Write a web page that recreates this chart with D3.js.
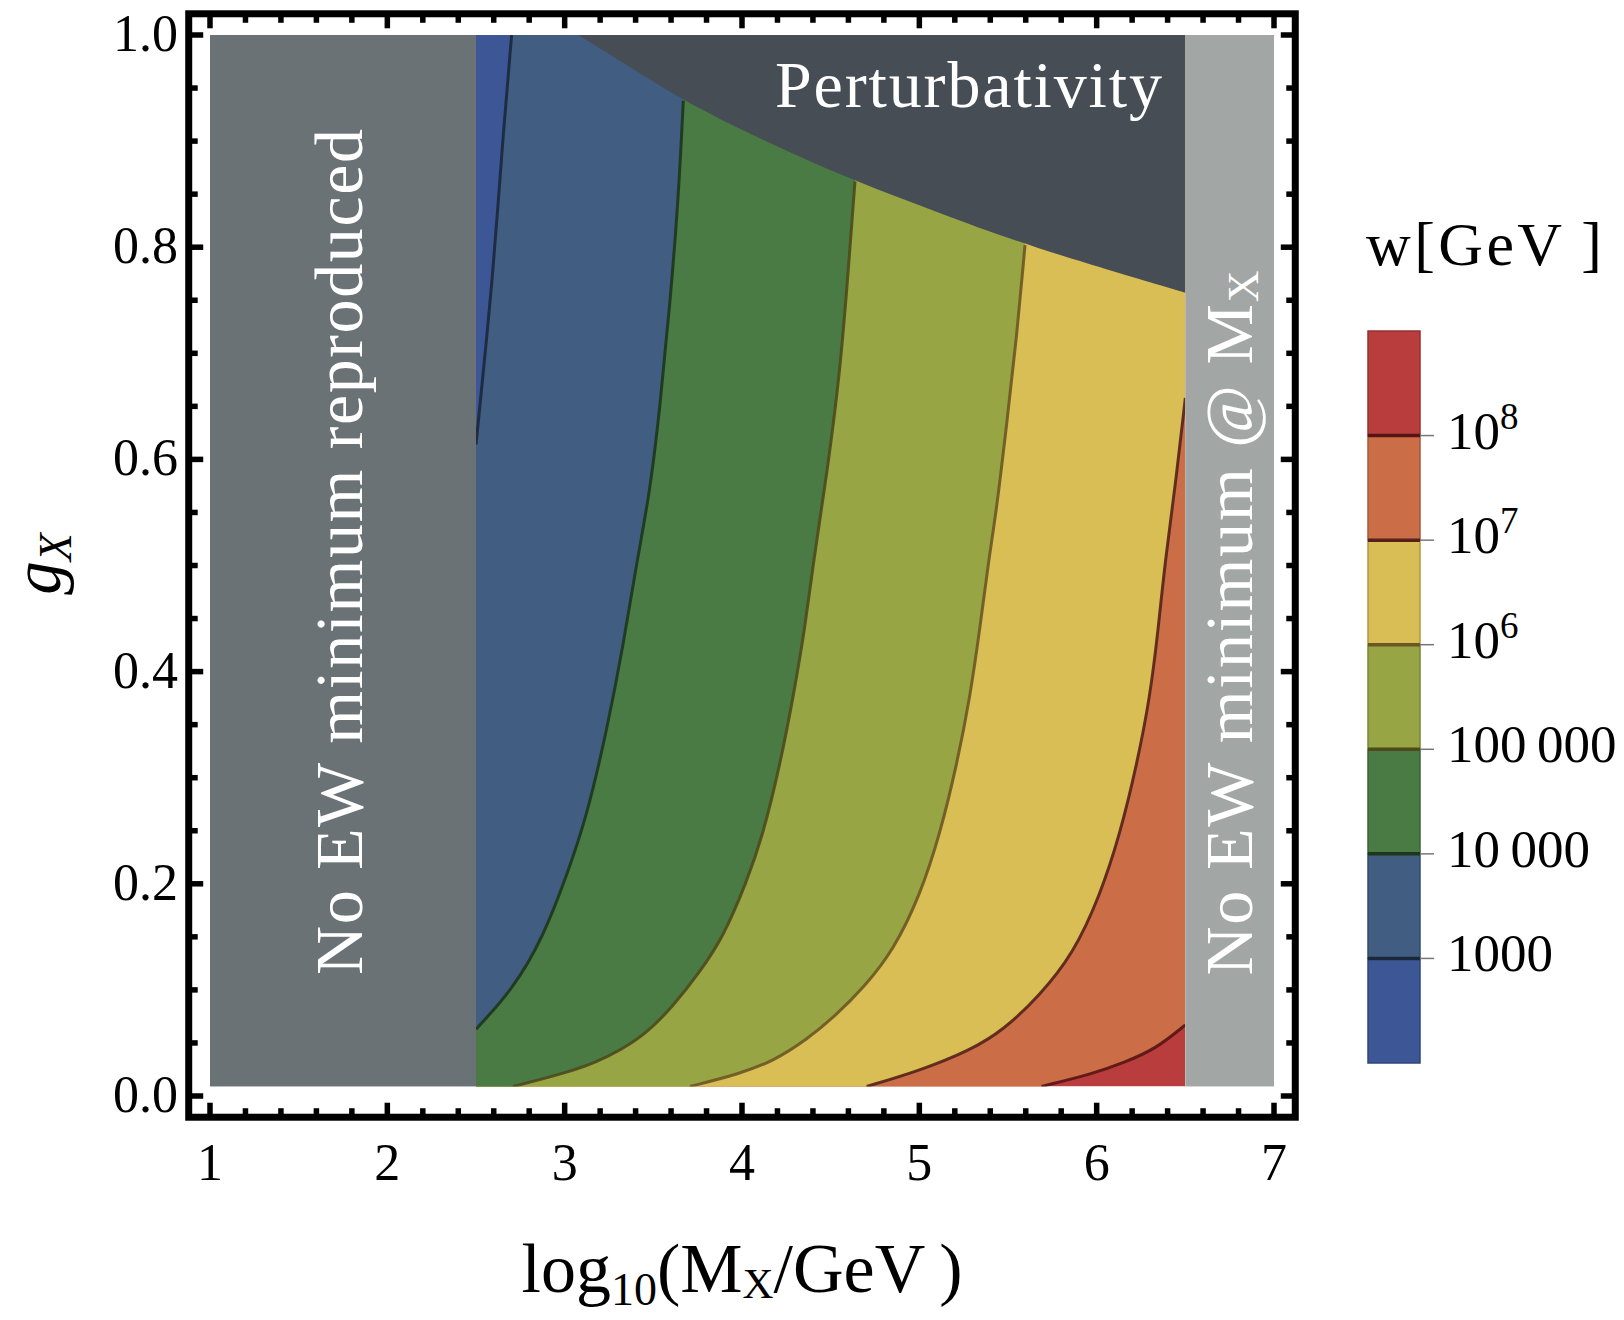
<!DOCTYPE html>
<html><head><meta charset="utf-8">
<script src="https://cdn.jsdelivr.net/npm/d3@7"></script>
<style>
body{margin:0;background:#fff;}
svg{display:block;}
text{font-family:"Liberation Serif","Times New Roman",serif;}
</style>
</head><body>
<svg id="chart" width="1624" height="1320"></svg>
<script>
// ---------------- data ----------------
const xTicks = [1, 2, 3, 4, 5, 6, 7];
const xTickLabels = ["1", "2", "3", "4", "5", "6", "7"];
const yTicks = [0.0, 0.2, 0.4, 0.6, 0.8, 1.0];
const yTickLabels = ["0.0", "0.2", "0.4", "0.6", "0.8", "1.0"];

const levels = [1e3, 1e4, 1e5, 1e6, 1e7, 1e8];
const levelLabels = [["1000", ""], ["10\u2009000", ""], ["100\u2009000", ""], ["10", "6"], ["10", "7"], ["10", "8"]];
const bandColors = ["#3d5796", "#415e82", "#4a7b45", "#97a544", "#d8be54", "#cb6e48", "#b93d3c"];
const lineColors = ["#1b283b", "#1d361c", "#4e4a1c", "#6b5624", "#55211a", "#561414"];

// contour lines of w, as [log10(MX/GeV), gX], bottom to top
const contour1e3 = [[2.5, 0.614], [2.541, 0.682], [2.598, 0.779], [2.654, 0.909], [2.701, 1.0]];
const contour1e4 = [[2.5, 0.063], [2.710, 0.101], [2.880, 0.150], [3.012, 0.208], [3.124, 0.263],
  [3.237, 0.344], [3.331, 0.425], [3.406, 0.503], [3.481, 0.569], [3.538, 0.650], [3.594, 0.747],
  [3.641, 0.844], [3.669, 0.938]];
const contour1e5 = [[2.710, 0.009], [2.992, 0.021], [3.181, 0.032], [3.312, 0.043], [3.462, 0.059],
  [3.613, 0.085], [3.763, 0.117], [3.895, 0.150], [4.027, 0.202], [4.120, 0.247], [4.214, 0.312],
  [4.289, 0.376], [4.355, 0.441], [4.402, 0.503], [4.478, 0.585], [4.553, 0.682], [4.600, 0.779],
  [4.637, 0.862]];
const contour1e6 = [[3.707, 0.009], [3.989, 0.021], [4.177, 0.033], [4.364, 0.053], [4.530, 0.076],
  [4.690, 0.103], [4.853, 0.137], [5.004, 0.189], [5.117, 0.247], [5.211, 0.312], [5.286, 0.376],
  [5.342, 0.441], [5.389, 0.503], [5.436, 0.553], [5.493, 0.634], [5.549, 0.715], [5.596, 0.802]];
const contour1e7 = [[4.703, 0.009], [5.004, 0.024], [5.286, 0.043], [5.474, 0.062], [5.680, 0.095],
  [5.868, 0.134], [6.019, 0.189], [6.132, 0.247], [6.226, 0.312], [6.301, 0.376], [6.348, 0.441],
  [6.385, 0.503], [6.451, 0.585], [6.5, 0.658]];
const contour1e8 = [[5.689, 0.009], [5.981, 0.021], [6.160, 0.032], [6.330, 0.044], [6.5, 0.067]];
const contours = [contour1e3, contour1e4, contour1e5, contour1e6, contour1e7, contour1e8];

const perturbativityEdge = [[3.077, 1.0], [3.349, 0.972], [3.669, 0.938], [4.101, 0.902], [4.637, 0.862],
  [5.135, 0.831], [5.596, 0.802], [6.5, 0.757]];

const xDomain = [1, 7];
const gDomain = [0.009, 1.0];
const noEWLow = [1, 2.5];
const noEWHigh = [6.5, 7];

// ---------------- drawing ----------------
const svg = d3.select("#chart");
const x = d3.scaleLinear().domain([1, 7]).range([210, 1274]);
const y = d3.scaleLinear().domain([0, 1]).range([1096, 35]);

const defs = svg.append("defs");
defs.append("clipPath").attr("id", "clipMid").append("rect")
  .attr("x", x(noEWLow[1])).attr("y", y(gDomain[1]))
  .attr("width", x(noEWHigh[0]) - x(noEWLow[1])).attr("height", y(gDomain[0]) - y(gDomain[1]));

const plot = svg.append("g").attr("clip-path", "url(#clipMid)");
const curve = d3.line().x(d => x(d[0])).y(d => y(d[1])).curve(d3.curveBasis);

// base: highest band
plot.append("rect")
  .attr("x", x(noEWLow[1])).attr("y", y(gDomain[1]))
  .attr("width", x(noEWHigh[0]) - x(noEWLow[1])).attr("height", y(gDomain[0]) - y(gDomain[1]))
  .attr("fill", bandColors[6]);

// region left of each contour, painted from highest to lowest
for (let k = contours.length - 1; k >= 0; k--) {
  const c = contours[k];
  const first = c[0], last = c[c.length - 1];
  let d = curve(c);
  d += "L" + x(last[0]) + "," + y(1.02);
  d += "L" + x(2.4) + "," + y(1.02);
  d += "L" + x(2.4) + "," + y(0);
  d += "L" + x(first[0]) + "," + y(0);
  d += "Z";
  plot.append("path").attr("d", d).attr("fill", bandColors[k]).attr("stroke", "none");
}
// contour lines
contours.forEach((c, k) => {
  plot.append("path").attr("d", curve(c)).attr("fill", "none")
    .attr("stroke", lineColors[k]).attr("stroke-width", 3).attr("opacity", 0.9);
});
// perturbativity region
{
  let d = curve(perturbativityEdge);
  d += "L" + x(6.6) + "," + y(0.757);
  d += "L" + x(6.6) + "," + y(1.05);
  d += "L" + x(3.077) + "," + y(1.05) + "Z";
  plot.append("path").attr("d", d).attr("fill", "#464d55");
}
// excluded bands
svg.append("rect").attr("x", x(noEWLow[0])).attr("y", y(gDomain[1]))
  .attr("width", x(noEWLow[1]) - x(noEWLow[0])).attr("height", y(gDomain[0]) - y(gDomain[1]))
  .attr("fill", "#6a7276");
svg.append("rect").attr("x", x(noEWHigh[0])).attr("y", y(gDomain[1]))
  .attr("width", x(noEWHigh[1]) - x(noEWHigh[0])).attr("height", y(gDomain[0]) - y(gDomain[1]))
  .attr("fill", "#a2a6a5");

// region labels
svg.append("text").attr("x", 775).attr("y", 107).attr("fill", "#fff")
  .attr("font-size", 66).attr("textLength", 387).attr("lengthAdjust", "spacing")
  .text("Perturbativity");
svg.append("text").attr("transform", "translate(362,552) rotate(-90)")
  .attr("text-anchor", "middle").attr("fill", "#fff").attr("font-size", 68)
  .attr("textLength", 846).attr("lengthAdjust", "spacing")
  .text("No EW minimum reproduced");
{
  const t = svg.append("text").attr("transform", "translate(1252,623) rotate(-90)")
    .attr("text-anchor", "middle").attr("fill", "#fff").attr("font-size", 68)
    .attr("textLength", 705).attr("lengthAdjust", "spacing");
  t.append("tspan").text("No EW minimum @ M");
  t.append("tspan").attr("font-size", 44).attr("dy", 6).text("X");
}

// frame
const fx0 = x(0.88), fx1 = x(7.12), fy0 = y(1.02), fy1 = y(-0.02);
svg.append("rect").attr("x", fx0).attr("y", fy0).attr("width", fx1 - fx0).attr("height", fy1 - fy0)
  .attr("fill", "none").attr("stroke", "#000").attr("stroke-width", 7);

const half = 3.5, majL = 11, minL = 5.5, tw = 5.5;
const xMinor = d3.range(1, 7.0001, 0.2).filter(v => Math.abs(v - Math.round(v)) > 1e-6);
const yMinor = d3.range(0, 1.0001, 0.05).filter(v => Math.abs(v * 5 - Math.round(v * 5)) > 1e-6);
const tk = svg.append("g").attr("stroke", "#000").attr("stroke-width", tw);
function xt(v, len) {
  tk.append("line").attr("x1", x(v)).attr("x2", x(v)).attr("y1", fy1).attr("y2", fy1 - half - len);
  tk.append("line").attr("x1", x(v)).attr("x2", x(v)).attr("y1", fy0).attr("y2", fy0 + half + len);
}
function yt(v, len) {
  tk.append("line").attr("y1", y(v)).attr("y2", y(v)).attr("x1", fx0).attr("x2", fx0 + half + len);
  tk.append("line").attr("y1", y(v)).attr("y2", y(v)).attr("x1", fx1).attr("x2", fx1 - half - len);
}
xTicks.forEach(v => xt(v, majL));
xMinor.forEach(v => xt(v, minL));
yTicks.forEach(v => yt(v, majL));
yMinor.forEach(v => yt(v, minL));

// tick labels
xTicks.forEach((v, i) => {
  svg.append("text").attr("x", x(v)).attr("y", 1180).attr("text-anchor", "middle")
    .attr("font-size", 52).text(xTickLabels[i]);
});
yTicks.forEach((v, i) => {
  svg.append("text").attr("x", 178).attr("y", y(v) + 16).attr("text-anchor", "end")
    .attr("font-size", 52).text(yTickLabels[i]);
});

// axis titles
{
  const t = svg.append("text").attr("x", x(4)).attr("y", 1292).attr("text-anchor", "middle")
    .attr("font-size", 70);
  t.append("tspan").text("log");
  t.append("tspan").attr("font-size", 46).attr("dy", 13).text("10");
  t.append("tspan").attr("dy", -13).text("(M");
  t.append("tspan").attr("font-size", 43).attr("dy", 6).text("X");
  t.append("tspan").attr("dy", -6).text("/GeV\u2009)");
}
{
  const t = svg.append("text").attr("transform", "translate(60,564) rotate(-90)")
    .attr("text-anchor", "middle").attr("font-size", 67).attr("font-style", "italic");
  t.append("tspan").text("g");
  t.append("tspan").attr("font-size", 46).attr("dy", 11).text("X");
}

// colorbar
const cb = d3.scaleLinear().domain([0, 7]).range([1063, 331]);
const cbX = 1368, cbW = 52;
bandColors.forEach((c, i) => {
  svg.append("rect").attr("x", cbX).attr("y", cb(i + 1)).attr("width", cbW).attr("height", cb(i) - cb(i + 1))
    .attr("fill", c).attr("stroke", d3.color(c).darker(0.6)).attr("stroke-width", 1.5);
});
levels.forEach((lv, i) => {
  const yy = cb(i + 1);
  svg.append("line").attr("x1", cbX).attr("x2", cbX + cbW).attr("y1", yy).attr("y2", yy)
    .attr("stroke", lineColors[i]).attr("stroke-width", 3.5);
  svg.append("line").attr("x1", cbX + cbW).attr("x2", cbX + cbW + 14).attr("y1", yy).attr("y2", yy)
    .attr("stroke", "#777").attr("stroke-width", 1.5);
  const t = svg.append("text").attr("x", 1447).attr("y", yy + 13).attr("font-size", 53);
  t.append("tspan").text(levelLabels[i][0]);
  if (levelLabels[i][1]) t.append("tspan").attr("font-size", 37).attr("dy", -20).text(levelLabels[i][1]);
});
svg.append("text").attr("x", 1366).attr("y", 265).attr("font-size", 62)
  .attr("textLength", 236).attr("lengthAdjust", "spacing").text("w[GeV\u2009]");
</script>
</body></html>
